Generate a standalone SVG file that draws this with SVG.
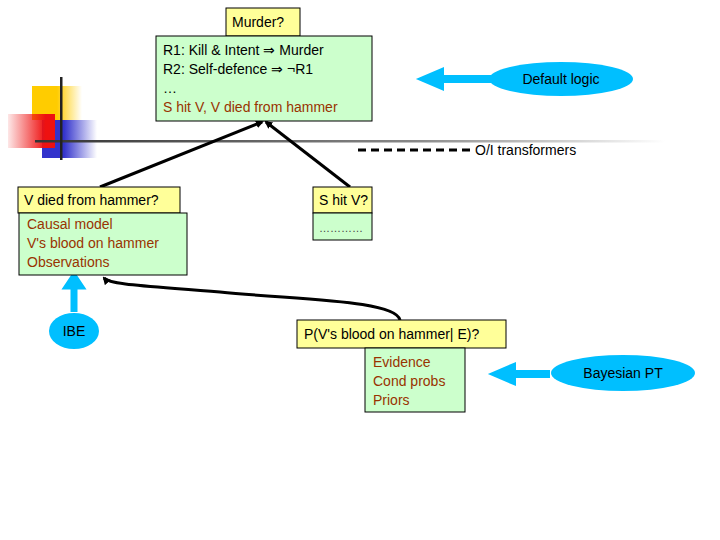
<svg xmlns="http://www.w3.org/2000/svg" width="720" height="540" viewBox="0 0 720 540">
<defs>
<linearGradient id="gy" x1="0" x2="1"><stop offset="0.5" stop-color="#ffcc00"/><stop offset="1" stop-color="#ffcc00" stop-opacity="0"/></linearGradient>
<linearGradient id="gb" x1="0" x2="1"><stop offset="0.4" stop-color="#3333cc"/><stop offset="1" stop-color="#3333cc" stop-opacity="0"/></linearGradient>
<linearGradient id="gr" x1="1" x2="0"><stop offset="0.2" stop-color="#ee1111"/><stop offset="1" stop-color="#ee1111" stop-opacity="0.1"/></linearGradient>
<linearGradient id="gl" x1="0" x2="1"><stop offset="0" stop-color="#333"/><stop offset="0.6" stop-color="#888"/><stop offset="1" stop-color="#fff"/></linearGradient>
<marker id="ah" markerWidth="8" markerHeight="8" refX="6" refY="4" orient="auto" markerUnits="userSpaceOnUse" viewBox="0 0 8 8"><path d="M0,0 L8,4 L0,8 z" fill="#000"/></marker>
</defs>
<style>
text{font-family:"Liberation Sans",Arial,sans-serif;font-size:14px;fill:#000}
.y{fill:#ffff99;stroke:#000;stroke-width:1}
.g{fill:#ccffcc;stroke:#000;stroke-width:1}
.r{fill:#993300}
.e{fill:#00bfff}
.c{stroke:#000;stroke-width:3;fill:none}
.ba{fill:#00bfff}
</style>
<g id="deco">
<rect x="32" y="86" width="50" height="34" fill="url(#gy)"/>
<rect x="42" y="120" width="55" height="38" fill="url(#gb)"/>
<rect x="8" y="114" width="47" height="34" fill="url(#gr)"/>
<rect x="35" y="140" width="630" height="2.5" fill="url(#gl)"/>
<rect x="60" y="77" width="2.5" height="83" fill="#222"/>
</g>
<g id="connectors">
<line x1="100" y1="187" x2="262" y2="122" class="c" marker-end="url(#ah)"/>
<line x1="350" y1="187" x2="266" y2="122" class="c" marker-end="url(#ah)"/>
<path d="M400,320 C395,300 300,300 220,292 C150,286 110,285 104,278" class="c" marker-end="url(#ah)"/>
<line x1="358" y1="150" x2="470" y2="150" stroke="#000" stroke-width="3" stroke-dasharray="8,5"/>
<path d="M74,312 V286 H68 L74,277 L80,286 H74" stroke="#00bfff" stroke-width="7" fill="#00bfff"/>
<path d="M505,79 H440 V73 L426,79 L440,85 V79" stroke="#00bfff" stroke-width="8" fill="#00bfff"/>
<path d="M550,374 H512 V368 L498,374 L512,380 V374" stroke="#00bfff" stroke-width="8" fill="#00bfff"/>
</g>
<g id="murder">
<rect x="226" y="8" width="74" height="28" class="y"/>
<text x="232" y="27">Murder?</text>
</g>
<g id="rules">
<rect x="156" y="36" width="216" height="85" class="g"/>
<text x="163" y="55">R1: Kill &amp; Intent ⇒ Murder</text>
<text x="163" y="74">R2: Self-defence ⇒ ¬R1</text>
<text x="163" y="93">…</text>
<text x="163" y="112" class="r">S hit V, V died from hammer</text>
</g>
<g id="default-logic">
<ellipse cx="561" cy="79" rx="72" ry="17" class="e"/>
<text x="561" y="84" text-anchor="middle">Default logic</text>
</g>
<g id="oi"><text x="475" y="155">O/I transformers</text></g>
<g id="vdied">
<rect x="18" y="187" width="162" height="26" class="y"/>
<text x="24" y="205">V died from hammer?</text>
<rect x="19" y="213" width="168" height="62" class="g"/>
<text x="27" y="229" class="r">Causal model</text>
<text x="27" y="248" class="r">V's blood on hammer</text>
<text x="27" y="267" class="r">Observations</text>
</g>
<g id="shit">
<rect x="313" y="187" width="59" height="26" class="y"/>
<text x="319" y="205">S hit V?</text>
<rect x="313" y="213" width="59" height="27" class="g"/>
<text x="319" y="232" style="font-size:11px;fill:#444">…………</text>
</g>
<g id="ibe">
<ellipse cx="74" cy="331" rx="25" ry="18" class="e"/>
<text x="74" y="336" text-anchor="middle">IBE</text>
</g>
<g id="pv">
<rect x="297" y="320" width="209" height="28" class="y"/>
<text x="304" y="339">P(V's blood on hammer| E)?</text>
<rect x="365" y="348" width="100" height="64" class="g"/>
<text x="373" y="367" class="r">Evidence</text>
<text x="373" y="386" class="r">Cond probs</text>
<text x="373" y="405" class="r">Priors</text>
</g>
<g id="bayes">
<ellipse cx="623" cy="373" rx="72" ry="18" class="e"/>
<text x="623" y="378" text-anchor="middle">Bayesian PT</text>
</g>
</svg>
